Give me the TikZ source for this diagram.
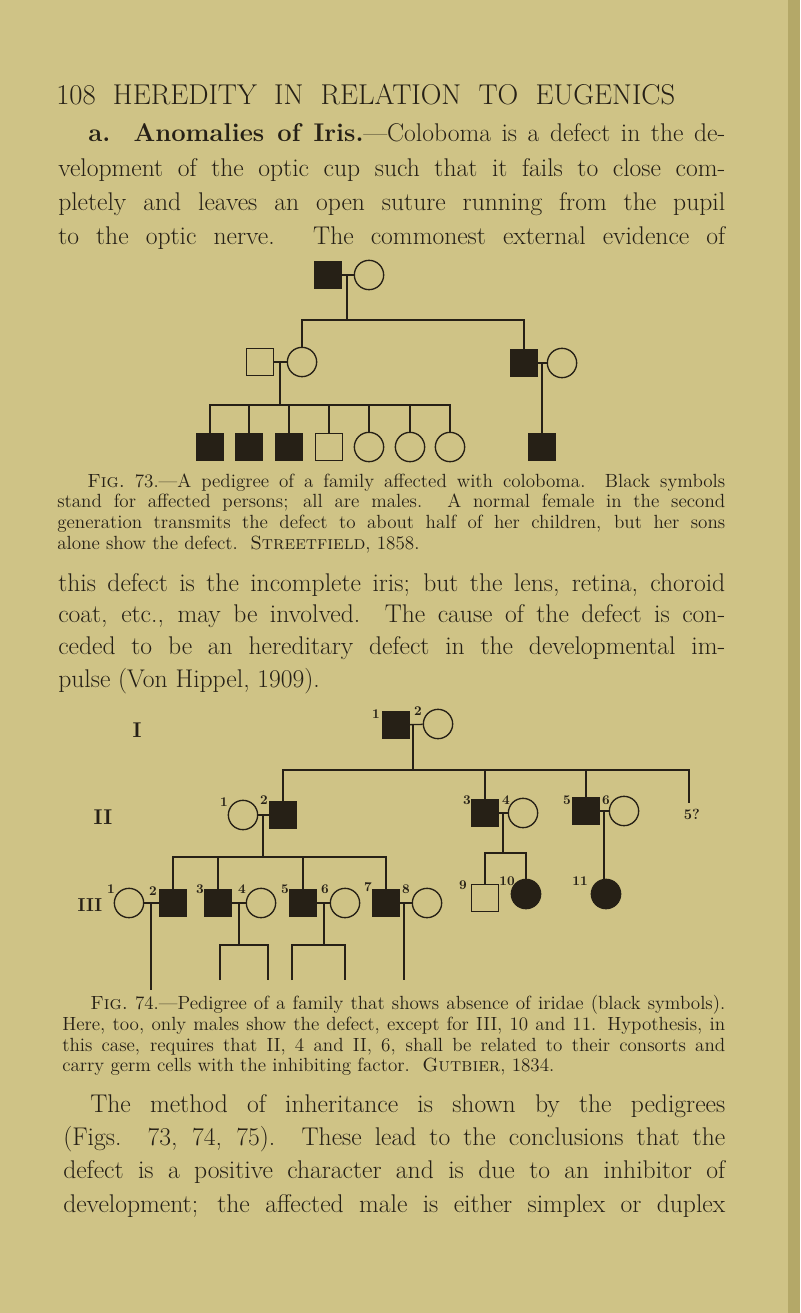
\documentclass[tikz,border=0pt]{standalone}
\usepackage{xcolor}
\definecolor{paper}{RGB}{207,195,134}
\definecolor{ink}{RGB}{38,32,22}
\definecolor{edge}{RGB}{180,168,104}
\newcommand\JL[2]{\makebox[\dimexpr(725pt-#1pt)*3/4\relax][s]{#2}}
\begin{document}
\begin{tikzpicture}[x=0.75pt,y=-0.75pt,
  every node/.style={text=ink},
  sq/.style={draw=ink,line width=1pt,rectangle,minimum size=20pt,inner sep=0pt},
  fsq/.style={sq,fill=ink},
  osq/.style={sq,fill=none},
  ci/.style={draw=ink,line width=1pt,circle,minimum size=22pt,inner sep=0pt},
  oci/.style={ci},
  fci/.style={ci,fill=ink},
  ln/.style={draw=ink,line width=1pt},
  num/.style={font=\bfseries\fontsize{10}{10}\selectfont,inner sep=0pt},
  gen/.style={font=\bfseries\fontsize{16}{16}\selectfont,inner sep=0pt},
  body/.style={anchor=base west,inner sep=0pt,font=\fontsize{19.2}{22}\selectfont},
  capt/.style={anchor=base west,inner sep=0pt,font=\fontsize{14.3}{16}\selectfont},
  ttl/.style={anchor=base west,inner sep=0pt,font=\fontsize{21.5}{24}\selectfont}]
\fill[paper] (0,0) rectangle (800,1313);
\fill[edge] (788,0) rectangle (800,1313);
\useasboundingbox (0,0) rectangle (800,1313);

% ---- text ----
\node[ttl] (title) at (56,104) {\makebox[\dimexpr(675pt-56pt)*3/4\relax][s]{108 HEREDITY IN RELATION TO EUGENICS}};
\node[body] (p1) at (88,142) {\JL{88}{\textbf{a. Anomalies of Iris.}---Coloboma is a defect in the de-}};
\node[body] (p2) at (58,176) {\JL{58}{velopment of the optic cup such that it fails to close com-}};
\node[body] (p3) at (58,210) {\JL{58}{pletely and leaves an open suture running from the pupil}};
\node[body] (p4) at (58,244) {\JL{58}{to the optic nerve. The commonest external evidence of}};

\node[capt] (c1) at (87,487) {\JL{87}{{\scshape Fig.}~73.---A pedigree of a family affected with coloboma. Black symbols}};
\node[capt] (c2) at (57,507) {\JL{57}{stand for affected persons; all are males. A normal female in the second}};
\node[capt] (c3) at (57,528) {\JL{57}{generation transmits the defect to about half of her children, but her sons}};
\node[capt] (c4) at (57,549) {alone show the defect.\ \ {\scshape Streetfield}, 1858.};

\node[body] (q1) at (58,591) {\JL{58}{this defect is the incomplete iris; but the lens, retina, choroid}};
\node[body] (q2) at (58,622) {\JL{58}{coat, etc., may be involved. The cause of the defect is con-}};
\node[body] (q3) at (58,654) {\JL{58}{ceded to be an hereditary defect in the developmental im-}};
\node[body] (q4) at (58,687) {pulse (Von Hippel, 1909).};

\node[capt] (d1) at (90,1009) {\JL{90}{{\scshape Fig.}~74.---Pedigree of a family that shows absence of iridae (black symbols).}};
\node[capt] (d2) at (62,1030) {\JL{62}{Here, too, only males show the defect, except for III, 10 and 11. Hypothesis, in}};
\node[capt] (d3) at (62,1051) {\JL{62}{this case, requires that II, 4 and II, 6, shall be related to their consorts and}};
\node[capt] (d4) at (62,1071) {carry germ cells with the inhibiting factor.\ \ {\scshape Gutbier}, 1834.};

\node[body] (r1) at (90,1112) {\JL{90}{The method of inheritance is shown by the pedigrees}};
\node[body] (r2) at (63,1145) {\JL{63}{(Figs. 73, 74, 75). These lead to the conclusions that the}};
\node[body] (r3) at (63,1178) {\JL{63}{defect is a positive character and is due to an inhibitor of}};
\node[body] (r4) at (63,1212) {\JL{63}{development; the affected male is either simplex or duplex}};

% ---- Fig 73 ----
\node[fsq] (a1) at (328,275) {}; \node[oci] (a2) at (369,275) {};
\draw[ln] (a1) -- (a2);
\coordinate (a12) at (347,275); \coordinate (a12b) at (347,320);
\draw[ln] (a12) -- (a12b);
\node[osq] (b1) at (260,362) {}; \node[oci] (b2) at (302,362) {};
\node[fsq] (bb1) at (524,363) {}; \node[oci] (bb2) at (562,363) {};
\draw[ln] (b1) -- (b2); \draw[ln] (bb1) -- (bb2);
\draw[ln] (b2.north) |- (a12b) -| (bb1.north);
\coordinate (b12) at (280,362); \coordinate (b12b) at (280,405);
\draw[ln] (b12) -- (b12b);
\node[fsq] (g1) at (210,447) {};
\node[fsq] (g2) at (249,447) {};
\node[fsq] (g3) at (289,447) {};
\node[osq] (g4) at (329,447) {};
\node[oci] (g5) at (369,447) {};
\node[oci] (g6) at (410,447) {};
\node[oci] (g7) at (450,447) {};
\node[fsq] (g8) at (542,447) {};
\draw[ln] (g1.north) |- (b12b) -| (g7.north);
\foreach \g in {g2,g3,g4,g5,g6} \draw[ln] (\g.north) -- (\g.north |- b12b);
\coordinate (bb12) at (542,363);
\draw[ln] (bb12) -- (g8.north);

% ---- Fig 74 ----
\node[gen] (LI) at (137,730) {I};
\node[gen] (LII) at (103,817) {II};
\node[gen,font=\bfseries\fontsize{14}{14}\selectfont] (LIII) at (90,905) {III};
\node[fsq] (s1) at (396,725) {}; \node[oci] (s2) at (438,724) {};
\node[num] at (376,714) {1}; \node[num] at (418,711) {2};
\draw[ln] (s1) -- (s2);
\coordinate (s12) at (413,724); \coordinate (s12b) at (413,770);
\draw[ln] (s12) -- (s12b);
% gen II
\node[oci] (t1) at (243,815) {}; \node[fsq] (t2) at (283,815) {};
\node[num] at (224,802) {1}; \node[num] at (264,800) {2};
\node[fsq] (t3) at (485,813) {}; \node[oci] (t4) at (523,813) {};
\node[num] at (467,800) {3}; \node[num] at (506,800) {4};
\node[fsq] (t5) at (586,811) {}; \node[oci] (t6) at (624,811) {};
\node[num] at (567,800) {5}; \node[num] at (606,800) {6};
\node[num,font=\bfseries\fontsize{11}{11}\selectfont] (t7) at (692,814) {5?};
\coordinate (t7top) at (689,803);
\draw[ln] (t1) -- (t2); \draw[ln] (t3) -- (t4); \draw[ln] (t5) -- (t6);
\draw[ln] (t2.north) |- (s12b) -| (t7top);
\draw[ln] (t3.north) -- (t3.north |- s12b);
\draw[ln] (t5.north) -- (t5.north |- s12b);
% gen III left
\coordinate (t12) at (263,815); \coordinate (t12b) at (263,857);
\draw[ln] (t12) -- (t12b);
\node[oci] (u1) at (129,903) {}; \node[fsq] (u2) at (173,903) {};
\node[fsq] (u3) at (218,903) {}; \node[oci] (u4) at (261,903) {};
\node[fsq] (u5) at (303,903) {}; \node[oci] (u6) at (345,903) {};
\node[fsq] (u7) at (386,903) {}; \node[oci] (u8) at (427,903) {};
\node[num] at (111,889) {1}; \node[num] at (153,891) {2};
\node[num] at (200,889) {3}; \node[num] at (242,889) {4};
\node[num] at (285,889) {5}; \node[num] at (325,889) {6};
\node[num] at (368,887) {7}; \node[num] at (406,889) {8};
\draw[ln] (u1) -- (u2); \draw[ln] (u3) -- (u4); \draw[ln] (u5) -- (u6); \draw[ln] (u7) -- (u8);
\draw[ln] (u2.north) |- (t12b) -| (u7.north);
\draw[ln] (u3.north) -- (u3.north |- t12b);
\draw[ln] (u5.north) -- (u5.north |- t12b);
% gen IV stubs
\coordinate (u12) at (151,903); \coordinate (u12b) at (151,990);
\draw[ln] (u12) -- (u12b);
\coordinate (u34) at (239,903); \coordinate (u34b) at (239,945);
\coordinate (v1) at (220,980); \coordinate (v2) at (268,980);
\draw[ln] (u34) -- (u34b);
\draw[ln] (v1) |- (u34b) -| (v2);
\coordinate (u56) at (324,903); \coordinate (u56b) at (324,945);
\coordinate (v3) at (292,980); \coordinate (v4) at (345,980);
\draw[ln] (u56) -- (u56b);
\draw[ln] (v3) |- (u56b) -| (v4);
\coordinate (u78) at (404,903); \coordinate (u78b) at (404,980);
\draw[ln] (u78) -- (u78b);
% gen III right
\coordinate (t34) at (503,813); \coordinate (t34b) at (503,853);
\draw[ln] (t34) -- (t34b);
\node[osq] (w9) at (485,898) {}; \node[fci] (w10) at (526,894) {};
\node[num] at (463,885) {9}; \node[num] at (507,881) {10};
\draw[ln] (w9.north) |- (t34b) -| (w10.north);
\coordinate (t56) at (604,811);
\node[fci] (w11) at (606,894) {};
\node[num] at (580,881) {11};
\draw[ln] (t56) -- (t56 |- w11.north);
\end{tikzpicture}
\end{document}
